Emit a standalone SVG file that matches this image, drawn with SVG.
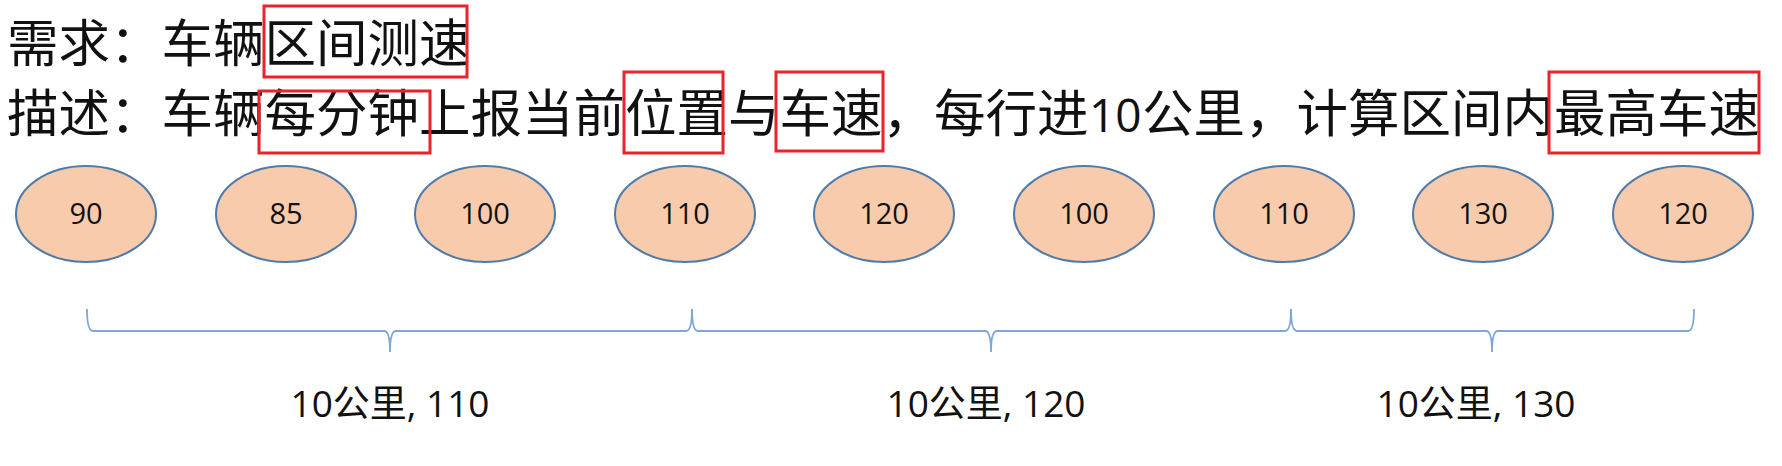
<svg xmlns="http://www.w3.org/2000/svg" width="1782" height="466" viewBox="0 0 1782 466">
<style>
.title{font-family:"Noto Sans CJK SC","Noto Sans",sans-serif;font-size:51.5px;fill:#111}
.num{font-family:"Open Sans","Noto Sans CJK SC",sans-serif;font-size:46px}
.hl{fill:none;stroke:#E8232A;stroke-width:3}
.node ellipse{fill:#F8CBAD;stroke:#4F7BA8;stroke-width:2}
.node text{font-family:"Open Sans","Liberation Sans",sans-serif;font-size:29px;fill:#111;text-anchor:middle}
.brace{fill:none;stroke:#7EA6D8;stroke-width:1.8}
.lbl{font-family:"Open Sans","Noto Sans CJK SC",sans-serif;font-size:37px;fill:#111;text-anchor:middle}
</style>
<rect width="1782" height="466" fill="#fff"/>
<g id="title">
<text class="title" x="7" y="62">需求：车辆区间测速</text>
<text class="title" x="7" y="132">描述：车辆每分钟上报当前位置与车速，每行进<tspan class="num" x="1089">10</tspan><tspan x="1142">公里，计算区间内最高车速</tspan></text>
<rect class="hl" x="264" y="6" width="203" height="71"/>
<rect class="hl" x="259" y="91" width="171" height="62"/>
<rect class="hl" x="624" y="72" width="99" height="81"/>
<rect class="hl" x="776" y="72" width="107" height="79"/>
<rect class="hl" x="1549" y="72" width="210" height="81"/>
</g>
<g id="n1" class="node"><ellipse cx="86" cy="214" rx="70" ry="48"/><text x="86" y="224">90</text></g>
<g id="n2" class="node"><ellipse cx="286" cy="214" rx="70" ry="48"/><text x="286" y="224">85</text></g>
<g id="n3" class="node"><ellipse cx="485" cy="214" rx="70" ry="48"/><text x="485" y="224">100</text></g>
<g id="n4" class="node"><ellipse cx="685" cy="214" rx="70" ry="48"/><text x="685" y="224">110</text></g>
<g id="n5" class="node"><ellipse cx="884" cy="214" rx="70" ry="48"/><text x="884" y="224">120</text></g>
<g id="n6" class="node"><ellipse cx="1084" cy="214" rx="70" ry="48"/><text x="1084" y="224">100</text></g>
<g id="n7" class="node"><ellipse cx="1284" cy="214" rx="70" ry="48"/><text x="1284" y="224">110</text></g>
<g id="n8" class="node"><ellipse cx="1483" cy="214" rx="70" ry="48"/><text x="1483" y="224">130</text></g>
<g id="n9" class="node"><ellipse cx="1683" cy="214" rx="70" ry="48"/><text x="1683" y="224">120</text></g>
<g id="connectors">
<path class="brace" d="M87,309 Q87,331 93,331 L384,331 Q390,331 390,352 Q390,331 396,331 L686,331 Q692,331 692,309"/>
<path class="brace" d="M692,309 Q692,331 698,331 L985,331 Q991,331 991,352 Q991,331 997,331 L1285,331 Q1291,331 1291,309"/>
<path class="brace" d="M1291,309 Q1291,331 1297,331 L1486,331 Q1492,331 1492,352 Q1492,331 1498,331 L1688,331 Q1694,331 1694,309"/>
</g>
<g id="labels">
<text class="lbl" x="390" y="417">10公里, 110</text>
<text class="lbl" x="986" y="417">10公里, 120</text>
<text class="lbl" x="1476" y="417">10公里, 130</text>
</g>
</svg>
